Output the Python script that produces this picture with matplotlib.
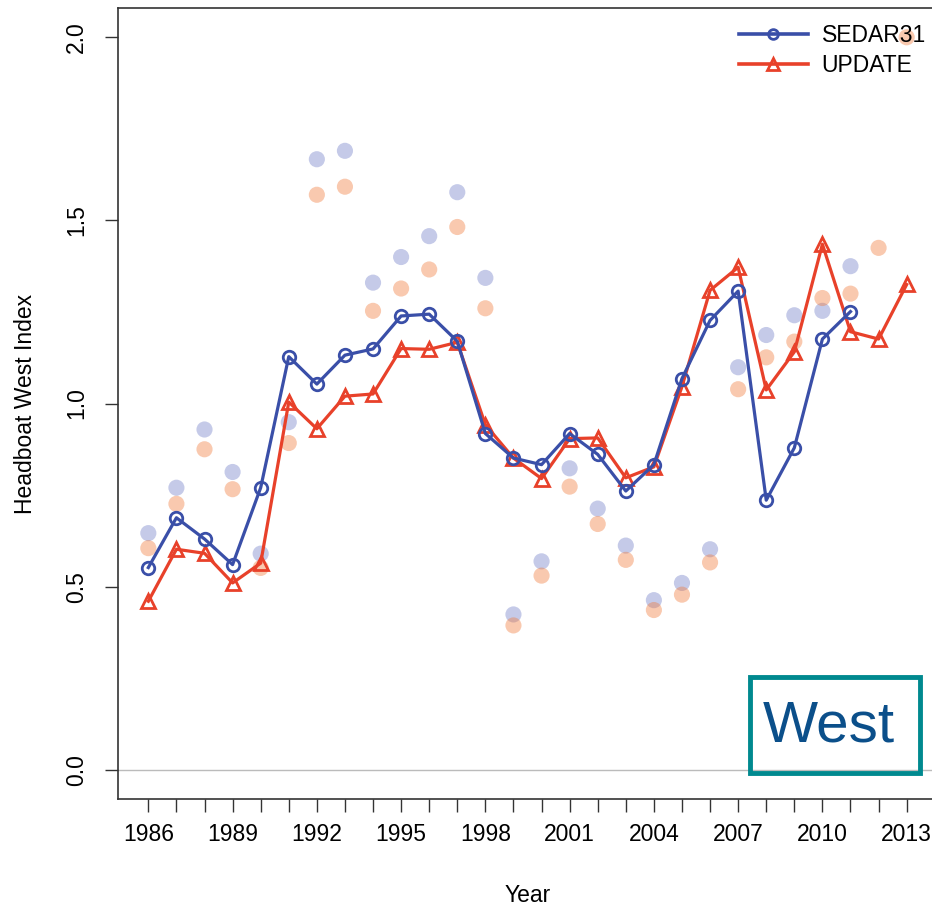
import numpy as np
import matplotlib.pyplot as plt
from matplotlib.patches import Rectangle
from matplotlib.lines import Line2D

plt.rcParams['font.family'] = ['Liberation Sans', 'DejaVu Sans']

# Indices estimados (SEDAR31 hasta 2011, UPDATE hasta 2013)
years_sedar = np.arange(1986, 2012)
sedar31 = [0.552, 0.688, 0.630, 0.560, 0.770, 1.128, 1.053, 1.132, 1.149, 1.239,
           1.244, 1.170, 0.918, 0.851, 0.833, 0.918, 0.861, 0.761, 0.833, 1.068,
           1.227, 1.307, 0.736, 0.879, 1.176, 1.251]

years_update = np.arange(1986, 2014)
update = [0.460, 0.602, 0.591, 0.510, 0.564, 1.004, 0.931, 1.020, 1.026, 1.150,
          1.148, 1.167, 0.942, 0.851, 0.795, 0.904, 0.906, 0.797, 0.827, 1.046,
          1.309, 1.372, 1.037, 1.141, 1.435, 1.196, 1.176, 1.325]

# Índices nominales (puntos tenues)
sedar31_obs = [0.646, 0.770, 0.929, 0.813, 0.590, 0.949, 1.667, 1.690, 1.330, 1.400,
               1.457, 1.577, 1.343, 0.424, 0.569, 0.823, 0.713, 0.612, 0.463, 0.510,
               0.602, 1.099, 1.187, 1.241, 1.253, 1.375]
update_obs = [0.605, 0.726, 0.875, 0.766, 0.551, 0.892, 1.570, 1.592, 1.253, 1.314,
              1.366, 1.482, 1.260, 0.394, 0.530, 0.773, 0.671, 0.573, 0.436, 0.478,
              0.566, 1.039, 1.126, 1.169, 1.288, 1.300, 1.425, 2.000]

tick_years = np.arange(1986, 2014)
label_years = np.arange(1986, 2014, 3)

blue = '#3A4FA8'
red = '#E8412A'

fig = plt.figure(figsize=(9.32, 9.08), dpi=100)
ax = fig.add_axes([118 / 932, 109 / 908, (937 - 118) / 932, (799 - 8) / 908])

ax.axhline(0, color='#BBBBBB', lw=1.0, zorder=1)

ax.scatter(years_sedar, sedar31_obs, s=135, color='#3F51B5', alpha=0.3,
           edgecolors='none', zorder=2)
ax.scatter(years_update, update_obs, s=135, color='#F07838', alpha=0.4,
           edgecolors='none', zorder=2)

ax.plot(years_sedar, sedar31, color=blue, lw=2.3, marker='o', ms=9,
        mfc='none', mec=blue, mew=2.0, zorder=4)
ax.plot(years_update, update, color=red, lw=2.3, marker='^', ms=10,
        mfc='none', mec=red, mew=2.0, zorder=3)

ax.set_xlim(1984.92, 2014.08)
ax.set_ylim(-0.08, 2.08)
ax.set_xticks(tick_years)
ax.set_xticklabels([str(y) if y in label_years else '' for y in tick_years])
ax.set_yticks([0.0, 0.5, 1.0, 1.5, 2.0])
ax.set_yticklabels(['0.0', '0.5', '1.0', '1.5', '2.0'])
ax.tick_params(axis='x', length=9.5, width=1.0, pad=8, labelsize=16.5,
               color='#333333')
ax.tick_params(axis='y', length=9.5, width=1.0, pad=12, labelsize=16.5,
               labelrotation=90, color='#333333')
for lab in ax.get_yticklabels():
    lab.set_va('center')

for sp in ax.spines.values():
    sp.set_color('#333333')
    sp.set_linewidth(1.2)

ax.set_xlabel('Year', fontsize=16.5, labelpad=27)
ax.set_ylabel('Headboat West Index', fontsize=16.5, labelpad=20)

handles = [Line2D([], [], color=blue, lw=2.6, marker='o', ms=7, mfc='none', mew=2.0),
           Line2D([], [], color=red, lw=2.6, marker='^', ms=8, mfc='none', mew=2.0)]
fig.legend(handles, ['SEDAR31', 'UPDATE'], loc='upper left',
           bbox_to_anchor=(739 / 932, 1 - 24 / 908), frameon=False,
           fontsize=16.5, handlelength=3.0, labelspacing=0.3, handletextpad=0.6,
           borderaxespad=0, borderpad=0)

# Recuadro "West"
fig.patches.append(Rectangle((750 / 932, 1 - 773 / 908), 170 / 932, 96 / 908,
                             transform=fig.transFigure, fill=False,
                             edgecolor='#00898F', lw=3.5, zorder=10))
fig.text(829 / 932, 1 - 727 / 908, 'West', fontsize=42, color='#0B4F8A',
         ha='center', va='center')

fig.savefig('out.png', dpi=100)
